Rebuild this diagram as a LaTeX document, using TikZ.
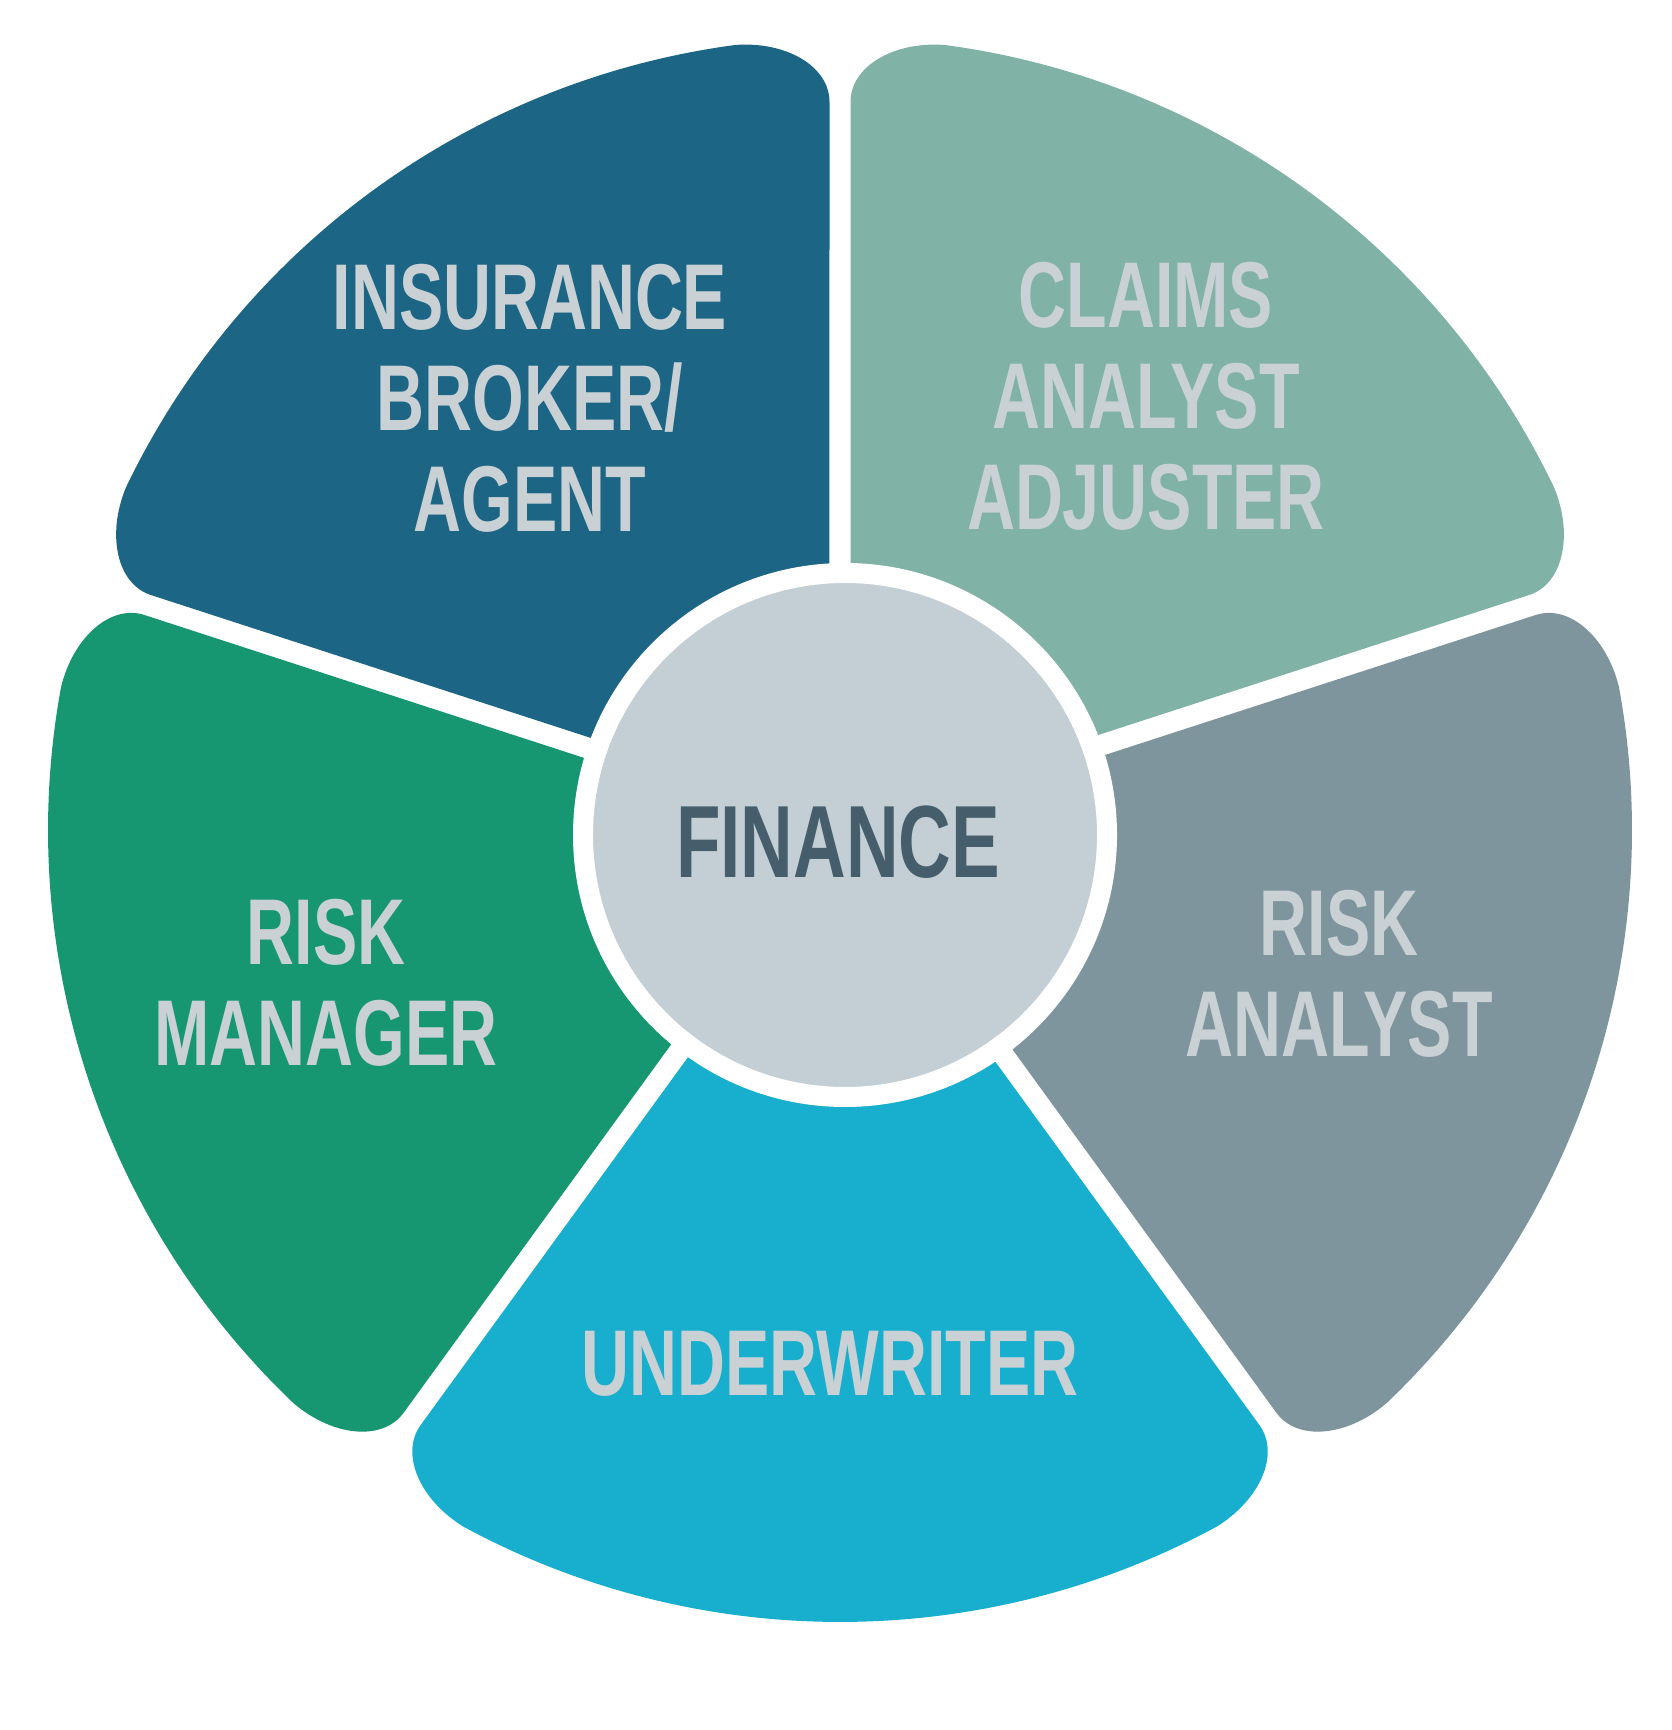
\documentclass[tikz,border=0pt]{standalone}
\usepackage{fontspec}
\newfontfamily\petalfont[FakeStretch=0.71]{Liberation Sans}
\usetikzlibrary{calc}
\definecolor{broker}{HTML}{1C6584}
\definecolor{claims}{HTML}{80B2A6}
\definecolor{ranalyst}{HTML}{7E959E}
\definecolor{under}{HTML}{18AECE}
\definecolor{rmanager}{HTML}{179672}
\definecolor{hubgray}{HTML}{C3CFD4}
\definecolor{lblgray}{HTML}{C9D1D5}
\definecolor{hubtext}{HTML}{465E6B}
\begin{document}
\begin{tikzpicture}[line join=round,
	lbl/.style={text=lblgray,align=center,inner sep=0pt,font=\petalfont\bfseries\fontsize{26.6}{28.7}\selectfont},
	hub/.style={circle,fill=hubgray,draw=white,line width=0.2cm,minimum size=5.24cm,inner sep=0pt}]
		\useasboundingbox (0,0) rectangle (16.71,17.30);
		\begin{scope}[shift={(8.40,9.00)}]
		\foreach \c/\col in {126/broker,54/claims,342/ranalyst,270/under,198/rmanager}{
			\pgfmathsetmacro\a{\c-36}
			\pgfmathsetmacro\b{\c+36}
			\coordinate (P1) at ($(\a:7.28)+(\a+90:0.105)$);
			\coordinate (K1) at ($(\a:7.919)+(\a+90:0.105)$);
			\coordinate (Q1) at (\c-28.4:7.92);
			\coordinate (P2) at ($(\b:7.28)+(\b-90:0.105)$);
			\coordinate (K2) at ($(\b:7.919)+(\b-90:0.105)$);
			\coordinate (Q2) at (\c+28.4:7.92);
			\fill[\col] (\c:0.18)--(P1) .. controls ($(P1)!0.55!(K1)$) and ($(Q1)!0.55!(K1)$) .. (Q1)
				arc[start angle=\c-28.4,end angle=\c+28.4,radius=7.92]
				.. controls ($(Q2)!0.55!(K2)$) and ($(P2)!0.55!(K2)$) .. (P2)--cycle;
		}
		\end{scope}
		\node[hub] (hub) at (8.45,8.95) {};
		\node[inner sep=0pt,text=hubtext,font=\petalfont\bfseries\fontsize{29.2}{31}\selectfont] (finance) at (8.38,8.88) {FINANCE};
		\node[lbl] (broker) at (5.30,13.32) {INSURANCE\\BROKER/\\AGENT};
		\node[lbl] (claims) at (11.46,13.34) {CLAIMS\\ANALYST\\ADJUSTER};
		\node[lbl] (ranalyst) at (13.39,7.56) {RISK\\ANALYST};
		\node[lbl] (rmanager) at (3.26,7.47) {RISK\\MANAGER};
		\node[lbl] (under) at (8.30,3.66) {UNDERWRITER};
		\end{tikzpicture}
\end{document}
